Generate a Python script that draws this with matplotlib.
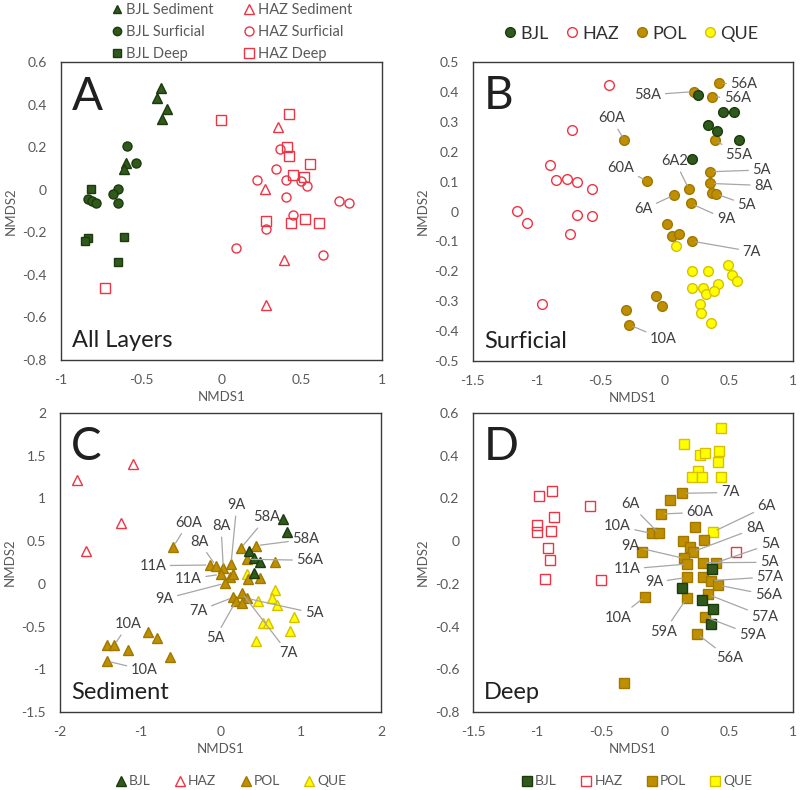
import matplotlib
matplotlib.use('Agg')
import matplotlib.pyplot as plt
from matplotlib.lines import Line2D
from matplotlib.ticker import FuncFormatter, MultipleLocator

plt.rcParams['font.family'] = ['Lato', 'DejaVu Sans']
plt.rcParams['axes.unicode_minus'] = False

# ---------------- Panel A : All layers ----------------
a_bjl_sed_x = [-0.376, -0.399, -0.341, -0.370, -0.596, -0.606]
a_bjl_sed_y = [0.481, 0.431, 0.379, 0.332, 0.125, 0.097]
a_bjl_sur_x = [-0.590, -0.534, -0.830, -0.805, -0.780, -0.642, -0.673, -0.642]
a_bjl_sur_y = [0.208, 0.125, -0.045, -0.052, -0.060, 0.003, -0.021, -0.060]
a_bjl_deep_x = [-0.812, -0.828, -0.849, -0.604, -0.646]
a_bjl_deep_y = [0.006, -0.228, -0.241, -0.223, -0.341]
a_haz_sed_x = [0.351, 0.270, 0.393, 0.281]
a_haz_sed_y = [0.294, 0.004, -0.330, -0.541]
a_haz_sur_x = [0.364, 0.339, 0.221, 0.405, 0.496, 0.534, 0.405, 0.733, 0.795, 0.447, 0.281, 0.094, 0.633]
a_haz_sur_y = [0.191, 0.098, 0.047, 0.047, 0.042, 0.018, -0.032, -0.051, -0.063, -0.120, -0.184, -0.272, -0.308]
a_haz_deep_x = [-0.005, 0.418, 0.409, 0.418, 0.554, 0.445, 0.515, 0.275, 0.436, 0.523, 0.608, -0.722]
a_haz_deep_y = [0.329, 0.357, 0.200, 0.159, 0.122, 0.070, 0.061, -0.145, -0.157, -0.138, -0.157, -0.463]

# ---------------- Panel B : Surficial ----------------
b_bjl_x = [0.261, 0.451, 0.542, 0.339, 0.404, 0.578, 0.209]
b_bjl_y = [0.390, 0.332, 0.334, 0.289, 0.269, 0.239, 0.175]
b_haz_x = [-0.439, -0.723, -0.894, -0.853, -0.764, -0.686, -0.569, -1.157, -1.076, -0.689, -0.569, -0.741, -0.957]
b_haz_y = [0.422, 0.271, 0.154, 0.106, 0.109, 0.099, 0.075, 0.003, -0.037, -0.012, -0.014, -0.075, -0.309]
b_pol_x = [0.422, 0.227, 0.370, -0.317, 0.391, 0.352, -0.137, 0.352, 0.188, 0.071, 0.201,
           0.370, 0.399, 0.019, 0.053, 0.112, 0.209, -0.070, -0.021, -0.304, -0.278]
b_pol_y = [0.429, 0.401, 0.384, 0.239, 0.239, 0.133, 0.102, 0.094, 0.074, 0.055, 0.027,
           0.063, 0.059, -0.043, -0.082, -0.076, -0.099, -0.283, -0.317, -0.329, -0.379]
b_que_x = [0.087, 0.211, 0.333, 0.491, 0.520, 0.559, 0.416, 0.211, 0.294, 0.317, 0.380, 0.273, 0.281, 0.356]
b_que_y = [-0.114, -0.198, -0.198, -0.179, -0.213, -0.232, -0.241, -0.256, -0.256, -0.277, -0.265, -0.308, -0.341, -0.373]
b_label_text = ['56A', '58A', '56A', '60A', '55A', '60A', '6A2', '5A', '8A', '5A', '6A', '9A', '7A', '10A']
b_label_idx = [0, 1, 2, 3, 4, 6, 8, 5, 7, 12, 9, 10, 16, 20]

# ---------------- Panel C : Sediment ----------------
c_bjl_x = [0.775, 0.833, 0.359, 0.421, 0.492, 0.421]
c_bjl_y = [0.756, 0.611, 0.385, 0.300, 0.260, 0.131]
c_haz_x = [-1.792, -1.090, -1.244, -1.676]
c_haz_y = [1.217, 1.400, 0.717, 0.385]
c_pol_x = [-0.588, -0.131, -0.056, 0.035, 0.131, 0.002, 0.118, 0.152, 0.056, 0.252, 0.442, 0.334, 0.683, 0.346,
           0.492, 0.160, 0.264, 0.326, 0.193, 0.268, -1.410, -1.323, -1.149, -0.907, -0.787, -0.626, -1.418]
c_pol_y = [0.436, 0.221, 0.210, 0.183, 0.233, 0.112, 0.077, 0.112, 0.007, 0.417, 0.447, 0.288, 0.260, 0.054,
           0.073, -0.157, -0.103, -0.169, -0.200, -0.220, -0.716, -0.716, -0.774, -0.567, -0.637, -0.852, -0.903]
c_que_x = [0.326, 0.679, 0.638, 0.700, 0.471, 0.916, 0.526, 0.588, 0.866, 0.442]
c_que_y = [0.112, -0.071, -0.169, -0.247, -0.197, -0.384, -0.454, -0.461, -0.552, -0.665]
c_label_text = ['9A', '58A', '58A', '56A', '8A', '8A', '60A', '11A', '11A', '9A', '7A', '5A', '7A', '5A', '10A', '10A']
c_label_idx = [4, 9, 10, 11, 3, 2, 0, 1, 5, 8, 15, 18, 16, 17, 21, 26]

# ---------------- Panel D : Deep ----------------
d_bjl_x = [0.365, 0.130, 0.286, 0.372, 0.359]
d_bjl_y = [-0.132, -0.221, -0.276, -0.318, -0.388]
d_haz_x = [-0.885, -0.987, -0.584, -0.865, -1.002, -0.997, -0.891, -0.916, -0.896, -0.935, -0.502, 0.557]
d_haz_y = [0.235, 0.211, 0.164, 0.114, 0.075, 0.044, 0.047, -0.031, -0.088, -0.177, -0.182, -0.052]
d_pol_x = [0.133, 0.039, -0.034, -0.104, -0.047, 0.234, 0.138, 0.307, 0.195, 0.216, -0.177, 0.151, 0.174,
           0.294, 0.396, 0.169, 0.299, 0.357, 0.416, 0.333, 0.169, -0.156, 0.313, 0.252, -0.320]
d_pol_y = [0.224, 0.192, 0.127, 0.036, 0.036, 0.067, 0.002, 0.005, -0.026, -0.050, -0.052, -0.081, -0.107,
           -0.101, -0.101, -0.170, -0.167, -0.185, -0.206, -0.249, -0.268, -0.260, -0.354, -0.435, -0.663]
d_que_x = [0.435, 0.146, 0.424, 0.273, 0.310, 0.416, 0.260, 0.213, 0.287, 0.440, 0.377]
d_que_y = [0.528, 0.453, 0.422, 0.403, 0.411, 0.369, 0.330, 0.302, 0.302, 0.302, 0.044]
d_label_text = ['7A', '6A', '60A', '10A', '8A', '9A', '5A', '5A', '11A', '57A', '9A', '56A', '10A', '57A', '59A', '59A', '56A']
d_label_idx = [0, 4, 2, 3, 9, 11, 14, 13, 12, 17, 15, 18, 21, 19, 20, 22, 23]
d_que_label_text = ['6A']
d_que_label_idx = [10]

# ---------------- styling ----------------
BJL_F, BJL_E = '#2f5a1c', '#1c3a0e'
HAZ = '#ee3344'
POL_F, POL_E = '#bf8f00', '#a07800'
QUE_F, QUE_E = '#ffff00', '#d8c000'
TXT = '#404040'
TICK = '#595959'
LEAD = '#a6a6a6'

fig = plt.figure(figsize=(8, 7.9), dpi=100)
axA = fig.add_axes([0.0759, 0.5443, 0.4016, 0.3768])
axB = fig.add_axes([0.5909, 0.5430, 0.4004, 0.3785])
axC = fig.add_axes([0.0750, 0.0987, 0.4013, 0.3785])
axD = fig.add_axes([0.5913, 0.0987, 0.4000, 0.3785])

fmt = FuncFormatter(lambda v, p: ('%g' % round(v, 3)) if abs(v) > 1e-9 else '0')


def style(ax, xlim, ylim, xstep, ystep):
    ax.set_xlim(*xlim)
    ax.set_ylim(*ylim)
    ax.xaxis.set_major_locator(MultipleLocator(xstep))
    ax.yaxis.set_major_locator(MultipleLocator(ystep))
    ax.xaxis.set_major_formatter(fmt)
    ax.yaxis.set_major_formatter(fmt)
    ax.tick_params(length=0, labelsize=10, colors=TICK, pad=10)
    for s in ax.spines.values():
        s.set_color('#3a3a3a')
        s.set_linewidth(1.0)
    ax.set_xlabel('NMDS1', fontsize=9.5, color=TICK, labelpad=4)
    ax.set_ylabel('NMDS2', fontsize=9.5, color=TICK, labelpad=4)


def pts(ax, x, y, marker, face, edge, ms, mew=1.0):
    ax.plot(x, y, ls='none', marker=marker, mfc=face, mec=edge, ms=ms, mew=mew, zorder=4)


def lab(ax, text, px, py, tx, ty):
    ax.annotate(text, xy=(px, py), xytext=(tx, ty), textcoords='data', ha='center', va='center',
                fontsize=10.5, color=TXT, zorder=5,
                arrowprops=dict(arrowstyle='-', color=LEAD, lw=0.9, shrinkA=1, shrinkB=3))


def corner(ax, letter, name):
    ax.text(0.035, 0.955, letter, transform=ax.transAxes, fontsize=33, color='#202020',
            ha='left', va='top')
    ax.text(0.035, 0.045, name, transform=ax.transAxes, fontsize=17, color='#202020',
            ha='left', va='baseline')


def h(marker, face, edge, ms, mew=1.0):
    return Line2D([], [], ls='none', marker=marker, mfc=face, mec=edge, ms=ms, mew=mew)

# ---------- A ----------
style(axA, (-1, 1), (-0.8, 0.6), 0.5, 0.2)
pts(axA, a_bjl_sed_x, a_bjl_sed_y, '^', BJL_F, BJL_E, 6.5)
pts(axA, a_bjl_sur_x, a_bjl_sur_y, 'o', BJL_F, BJL_E, 6.5)
pts(axA, a_bjl_deep_x, a_bjl_deep_y, 's', BJL_F, BJL_E, 6)
pts(axA, a_haz_sed_x, a_haz_sed_y, '^', 'none', HAZ, 6.5)
pts(axA, a_haz_sur_x, a_haz_sur_y, 'o', 'none', HAZ, 6.5)
pts(axA, a_haz_deep_x, a_haz_deep_y, 's', 'none', HAZ, 6.5)
corner(axA, 'A', 'All Layers')
axA.legend([h('^', BJL_F, BJL_E, 6), h('o', BJL_F, BJL_E, 6), h('s', BJL_F, BJL_E, 5.5),
            h('^', 'none', HAZ, 6.5), h('o', 'none', HAZ, 6.5), h('s', 'none', HAZ, 6.5)],
           ['BJL Sediment', 'BJL Surficial', 'BJL Deep', 'HAZ Sediment', 'HAZ Surficial', 'HAZ Deep'],
           ncol=2, loc='center', bbox_to_anchor=(0.53, 1.102), frameon=False, fontsize=10.5,
           handletextpad=0.1, columnspacing=2.0, labelspacing=0.55, borderaxespad=0, handlelength=1.0,
           labelcolor=TICK)

# ---------- B ----------
style(axB, (-1.5, 1), (-0.5, 0.5), 0.5, 0.1)
pts(axB, b_haz_x, b_haz_y, 'o', 'none', HAZ, 7)
pts(axB, b_que_x, b_que_y, 'o', QUE_F, QUE_E, 7)
pts(axB, b_pol_x, b_pol_y, 'o', POL_F, POL_E, 7)
pts(axB, b_bjl_x, b_bjl_y, 'o', BJL_F, BJL_E, 7)
b_label_pos = [(0.617, 0.426), (-0.134, 0.390), (0.565, 0.379), (-0.418, 0.312), (0.573, 0.189),
               (-0.343, 0.146), (0.079, 0.169), (0.756, 0.139), (0.768, 0.087), (0.639, 0.022),
               (-0.169, 0.007), (0.477, -0.026), (0.678, -0.134), (-0.012, -0.427)]
for (t, i), (tx, ty) in zip(zip(b_label_text, b_label_idx), b_label_pos):
    lab(axB, t, b_pol_x[i], b_pol_y[i], tx, ty)
corner(axB, 'B', 'Surficial')
axB.legend([h('o', BJL_F, BJL_E, 7), h('o', 'none', HAZ, 7), h('o', POL_F, POL_E, 7), h('o', QUE_F, QUE_E, 7)],
           ['BJL', 'HAZ', 'POL', 'QUE'], ncol=4, loc='center', bbox_to_anchor=(0.49, 1.095), frameon=False,
           fontsize=13, handletextpad=0.05, columnspacing=0.8, handlelength=1.0, borderaxespad=0,
           labelcolor='#303030')

# ---------- C ----------
style(axC, (-2, 2), (-1.5, 2), 1, 0.5)
pts(axC, c_haz_x, c_haz_y, '^', 'none', HAZ, 7)
pts(axC, c_que_x, c_que_y, '^', QUE_F, QUE_E, 7)
pts(axC, c_pol_x, c_pol_y, '^', POL_F, POL_E, 7)
pts(axC, c_bjl_x, c_bjl_y, '^', BJL_F, BJL_E, 7)
c_label_pos = [(0.202, 0.924), (0.576, 0.780), (1.065, 0.522), (1.115, 0.276), (0.006, 0.678),
               (-0.268, 0.494), (-0.401, 0.717), (-0.845, 0.213), (-0.401, 0.057), (-0.700, -0.177),
               (-0.277, -0.317), (-0.069, -0.637), (0.845, -0.813), (1.169, -0.344), (-1.149, -0.470),
               (-0.950, -1.008)]
for (t, i), (tx, ty) in zip(zip(c_label_text, c_label_idx), c_label_pos):
    lab(axC, t, c_pol_x[i], c_pol_y[i], tx, ty)
corner(axC, 'C', 'Sediment')
axC.legend([h('^', BJL_F, BJL_E, 6.5), h('^', 'none', HAZ, 6.5), h('^', POL_F, POL_E, 6.5), h('^', QUE_F, QUE_E, 6.5)],
           ['BJL', 'HAZ', 'POL', 'QUE'], ncol=4, loc='center', bbox_to_anchor=(0.53, -0.232), frameon=False,
           fontsize=10, handletextpad=0.1, columnspacing=1.6, handlelength=1.0, borderaxespad=0,
           labelcolor=TICK)

# ---------- D ----------
style(axD, (-1.5, 1), (-0.8, 0.6), 0.5, 0.2)
pts(axD, d_haz_x, d_haz_y, 's', 'none', HAZ, 6.5)
pts(axD, d_que_x, d_que_y, 's', QUE_F, QUE_E, 7)
pts(axD, d_pol_x, d_pol_y, 's', POL_F, POL_E, 7)
pts(axD, d_bjl_x, d_bjl_y, 's', BJL_F, BJL_E, 7)
d_label_pos = [(0.508, 0.228), (-0.273, 0.174), (0.273, 0.135), (-0.373, 0.071), (0.703, 0.060),
               (-0.273, -0.022), (0.820, -0.014), (0.815, -0.099), (-0.299, -0.131), (0.820, -0.167),
               (-0.086, -0.193), (0.807, -0.252), (-0.365, -0.359), (0.781, -0.354), (-0.008, -0.424),
               (0.685, -0.440), (0.502, -0.549)]
for (t, i), (tx, ty) in zip(zip(d_label_text, d_label_idx), d_label_pos):
    lab(axD, t, d_pol_x[i], d_pol_y[i], tx, ty)
d_que_label_pos = [(0.795, 0.164)]
for (t, i), (tx, ty) in zip(zip(d_que_label_text, d_que_label_idx), d_que_label_pos):
    lab(axD, t, d_que_x[i], d_que_y[i], tx, ty)
corner(axD, 'D', 'Deep')
axD.legend([h('s', BJL_F, BJL_E, 6.5), h('s', 'none', HAZ, 6.5), h('s', POL_F, POL_E, 6.5), h('s', QUE_F, QUE_E, 6.5)],
           ['BJL', 'HAZ', 'POL', 'QUE'], ncol=4, loc='center', bbox_to_anchor=(0.51, -0.232), frameon=False,
           fontsize=10, handletextpad=0.1, columnspacing=1.6, handlelength=1.0, borderaxespad=0,
           labelcolor=TICK)

fig.savefig('out.png', dpi=100)
